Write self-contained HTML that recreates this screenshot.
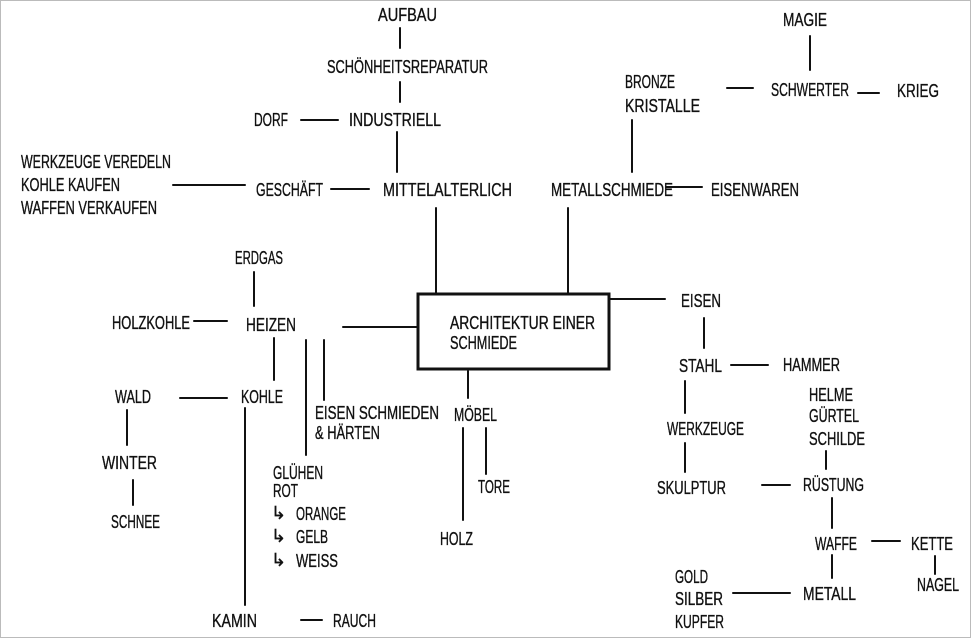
<!DOCTYPE html>
<html><head><meta charset="utf-8"><style>
html,body{margin:0;padding:0;background:#fff;}
svg{display:block}
text{font-family:"Liberation Sans Narrow","Liberation Sans",sans-serif;font-size:18px;fill:#111;stroke:#111;stroke-width:0.35;}
line{stroke:#111;stroke-width:2;stroke-linecap:round}
</style></head><body>
<svg width="975" height="641" viewBox="0 0 975 641" xmlns="http://www.w3.org/2000/svg">
<rect x="0.5" y="0.5" width="970" height="637" fill="#fff" stroke="#bbb" stroke-width="1"/>
<g>
<text x="378" y="21" textLength="59" lengthAdjust="spacingAndGlyphs">AUFBAU</text>
<text x="327" y="73" textLength="161" lengthAdjust="spacingAndGlyphs">SCHÖNHEITSREPARATUR</text>
<text x="254" y="126" textLength="34" lengthAdjust="spacingAndGlyphs">DORF</text>
<text x="349" y="126" textLength="92" lengthAdjust="spacingAndGlyphs">INDUSTRIELL</text>
<text x="21" y="168" textLength="150" lengthAdjust="spacingAndGlyphs">WERKZEUGE VEREDELN</text>
<text x="21" y="191" textLength="99" lengthAdjust="spacingAndGlyphs">KOHLE KAUFEN</text>
<text x="21" y="214" textLength="136" lengthAdjust="spacingAndGlyphs">WAFFEN VERKAUFEN</text>
<text x="256" y="196" textLength="67" lengthAdjust="spacingAndGlyphs">GESCHÄFT</text>
<text x="383" y="196" textLength="129" lengthAdjust="spacingAndGlyphs">MITTELALTERLICH</text>
<text x="551" y="196" textLength="122" lengthAdjust="spacingAndGlyphs">METALLSCHMIEDE</text>
<text x="711" y="196" textLength="88" lengthAdjust="spacingAndGlyphs">EISENWAREN</text>
<text x="625" y="88" textLength="50" lengthAdjust="spacingAndGlyphs">BRONZE</text>
<text x="625" y="112" textLength="75" lengthAdjust="spacingAndGlyphs">KRISTALLE</text>
<text x="783" y="26" textLength="44" lengthAdjust="spacingAndGlyphs">MAGIE</text>
<text x="771" y="96" textLength="78" lengthAdjust="spacingAndGlyphs">SCHWERTER</text>
<text x="897" y="97" textLength="42" lengthAdjust="spacingAndGlyphs">KRIEG</text>
<text x="235" y="264" textLength="48" lengthAdjust="spacingAndGlyphs">ERDGAS</text>
<text x="112" y="329" textLength="78" lengthAdjust="spacingAndGlyphs">HOLZKOHLE</text>
<text x="246" y="331" textLength="50" lengthAdjust="spacingAndGlyphs">HEIZEN</text>
<text x="450" y="329" textLength="145" lengthAdjust="spacingAndGlyphs">ARCHITEKTUR EINER</text>
<text x="450" y="349" textLength="67" lengthAdjust="spacingAndGlyphs">SCHMIEDE</text>
<text x="681" y="307" textLength="40" lengthAdjust="spacingAndGlyphs">EISEN</text>
<text x="115" y="403" textLength="36" lengthAdjust="spacingAndGlyphs">WALD</text>
<text x="241" y="403" textLength="42" lengthAdjust="spacingAndGlyphs">KOHLE</text>
<text x="315" y="419" textLength="124" lengthAdjust="spacingAndGlyphs">EISEN SCHMIEDEN</text>
<text x="315" y="439" textLength="65" lengthAdjust="spacingAndGlyphs">&amp; HÄRTEN</text>
<text x="454" y="421" textLength="43" lengthAdjust="spacingAndGlyphs">MÖBEL</text>
<text x="679" y="372" textLength="43" lengthAdjust="spacingAndGlyphs">STAHL</text>
<text x="783" y="371" textLength="57" lengthAdjust="spacingAndGlyphs">HAMMER</text>
<text x="809" y="401" textLength="44" lengthAdjust="spacingAndGlyphs">HELME</text>
<text x="809" y="422" textLength="50" lengthAdjust="spacingAndGlyphs">GÜRTEL</text>
<text x="809" y="445" textLength="56" lengthAdjust="spacingAndGlyphs">SCHILDE</text>
<text x="667" y="435" textLength="77" lengthAdjust="spacingAndGlyphs">WERKZEUGE</text>
<text x="102" y="469" textLength="55" lengthAdjust="spacingAndGlyphs">WINTER</text>
<text x="273" y="479" textLength="50" lengthAdjust="spacingAndGlyphs">GLÜHEN</text>
<text x="273" y="497" textLength="25" lengthAdjust="spacingAndGlyphs">ROT</text>
<text x="271" y="519">↳</text>
<text x="296" y="520" textLength="50" lengthAdjust="spacingAndGlyphs">ORANGE</text>
<text x="271" y="542">↳</text>
<text x="296" y="543" textLength="32" lengthAdjust="spacingAndGlyphs">GELB</text>
<text x="271" y="566">↳</text>
<text x="296" y="567" textLength="42" lengthAdjust="spacingAndGlyphs">WEISS</text>
<text x="478" y="493" textLength="32" lengthAdjust="spacingAndGlyphs">TORE</text>
<text x="111" y="528" textLength="49" lengthAdjust="spacingAndGlyphs">SCHNEE</text>
<text x="657" y="494" textLength="69" lengthAdjust="spacingAndGlyphs">SKULPTUR</text>
<text x="803" y="491" textLength="61" lengthAdjust="spacingAndGlyphs">RÜSTUNG</text>
<text x="440" y="545" textLength="33" lengthAdjust="spacingAndGlyphs">HOLZ</text>
<text x="815" y="550" textLength="42" lengthAdjust="spacingAndGlyphs">WAFFE</text>
<text x="911" y="550" textLength="42" lengthAdjust="spacingAndGlyphs">KETTE</text>
<text x="917" y="591" textLength="42" lengthAdjust="spacingAndGlyphs">NAGEL</text>
<text x="675" y="583" textLength="33" lengthAdjust="spacingAndGlyphs">GOLD</text>
<text x="675" y="605" textLength="48" lengthAdjust="spacingAndGlyphs">SILBER</text>
<text x="675" y="628" textLength="49" lengthAdjust="spacingAndGlyphs">KUPFER</text>
<text x="803" y="600" textLength="53" lengthAdjust="spacingAndGlyphs">METALL</text>
<text x="212" y="627" textLength="45" lengthAdjust="spacingAndGlyphs">KAMIN</text>
<text x="333" y="627" textLength="43" lengthAdjust="spacingAndGlyphs">RAUCH</text>
</g>
<rect x="418" y="294" width="191" height="75" fill="none" stroke="#111" stroke-width="3"/>
<line x1="400" y1="28" x2="400" y2="48"/>
<line x1="400" y1="82" x2="400" y2="102"/>
<line x1="301" y1="120" x2="338" y2="120"/>
<line x1="397" y1="132" x2="397" y2="172"/>
<line x1="173" y1="185" x2="245" y2="185"/>
<line x1="331" y1="189" x2="369" y2="189"/>
<line x1="436" y1="208" x2="436" y2="293"/>
<line x1="568" y1="208" x2="568" y2="293"/>
<line x1="632" y1="120" x2="632" y2="172"/>
<line x1="666" y1="187" x2="702" y2="187"/>
<line x1="727" y1="88" x2="753" y2="88"/>
<line x1="810" y1="36" x2="810" y2="70"/>
<line x1="858" y1="93" x2="879" y2="93"/>
<line x1="254" y1="272" x2="254" y2="306"/>
<line x1="194" y1="321" x2="227" y2="321"/>
<line x1="343" y1="327" x2="417" y2="327"/>
<line x1="610" y1="299" x2="665" y2="299"/>
<line x1="274" y1="338" x2="274" y2="380"/>
<line x1="306" y1="340" x2="306" y2="455"/>
<line x1="324" y1="340" x2="324" y2="400"/>
<line x1="180" y1="398" x2="227" y2="398"/>
<line x1="245" y1="408" x2="245" y2="605"/>
<line x1="127" y1="410" x2="127" y2="445"/>
<line x1="133" y1="480" x2="133" y2="505"/>
<line x1="301" y1="620" x2="322" y2="620"/>
<line x1="468" y1="371" x2="468" y2="398"/>
<line x1="463" y1="428" x2="463" y2="520"/>
<line x1="486" y1="428" x2="486" y2="474"/>
<line x1="704" y1="318" x2="704" y2="348"/>
<line x1="731" y1="365" x2="768" y2="365"/>
<line x1="685" y1="381" x2="685" y2="413"/>
<line x1="685" y1="443" x2="685" y2="472"/>
<line x1="826" y1="451" x2="826" y2="469"/>
<line x1="762" y1="485" x2="790" y2="485"/>
<line x1="832" y1="498" x2="832" y2="528"/>
<line x1="872" y1="541" x2="900" y2="541"/>
<line x1="935" y1="556" x2="935" y2="574"/>
<line x1="832" y1="555" x2="832" y2="578"/>
<line x1="733" y1="593" x2="790" y2="593"/>
</svg>
</body></html>
